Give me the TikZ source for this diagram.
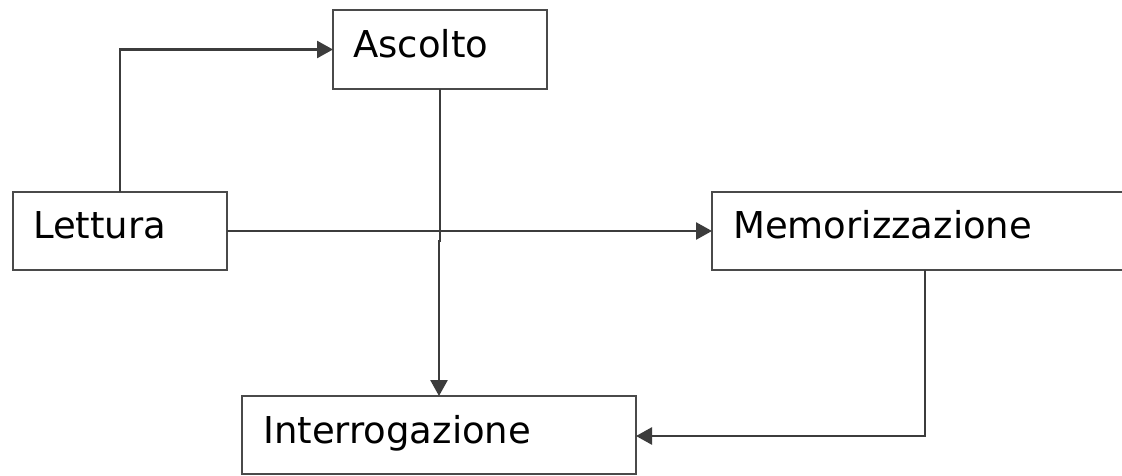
\documentclass[tikz,border=0pt]{standalone}
\usepackage{fontspec}
\setmainfont{DejaVu Sans}
\usetikzlibrary{arrows.meta}
\definecolor{boxc}{HTML}{4A4A4A}
\definecolor{linec}{HTML}{3C3C3C}
\begin{document}
\begin{tikzpicture}[x=1pt,y=-1pt,
  box/.style={draw=boxc,line width=2pt,inner sep=0pt,outer sep=0pt,anchor=north west,minimum height=78pt},
  lbl/.style={anchor=base west,inner sep=0pt,font=\fontsize{37}{40}\selectfont},
  conn/.style={draw=linec,line width=2.6pt},
  arr/.style={conn,-{Triangle[length=16pt,width=17pt]}}]
\useasboundingbox (0,0) rectangle (1122,475);
\fill[white] (0,0) rectangle (1122,475);
\node[box,minimum width=214pt,minimum height=79pt] (asc) at (333,10) {};
\node[box,minimum width=214pt] (let) at (13,192) {};
\node[box,minimum width=423pt] (mem) at (712,192) {};
\node[box,minimum width=394pt] (int) at (242,396) {};
\node[lbl] (tasc) at (353,57) {Ascolto};
\node[lbl] (tlet) at (33,238) {Lettura};
\node[lbl] (tmem) at (733,238) {Memorizzazione};
\node[lbl] (tint) at (263,443) {Interrogazione};
\coordinate (j) at (440,241);
\coordinate (md) at (925,436);
\draw[arr] (let.north) |- (asc.west);
\draw[arr] (let.east) -- (mem.west);
\draw[arr] (asc.south) -- (j) -| (int.north);
\draw[arr] (mem.south -| md) -- (md) -- (int.east |- md);
\end{tikzpicture}
\end{document}
